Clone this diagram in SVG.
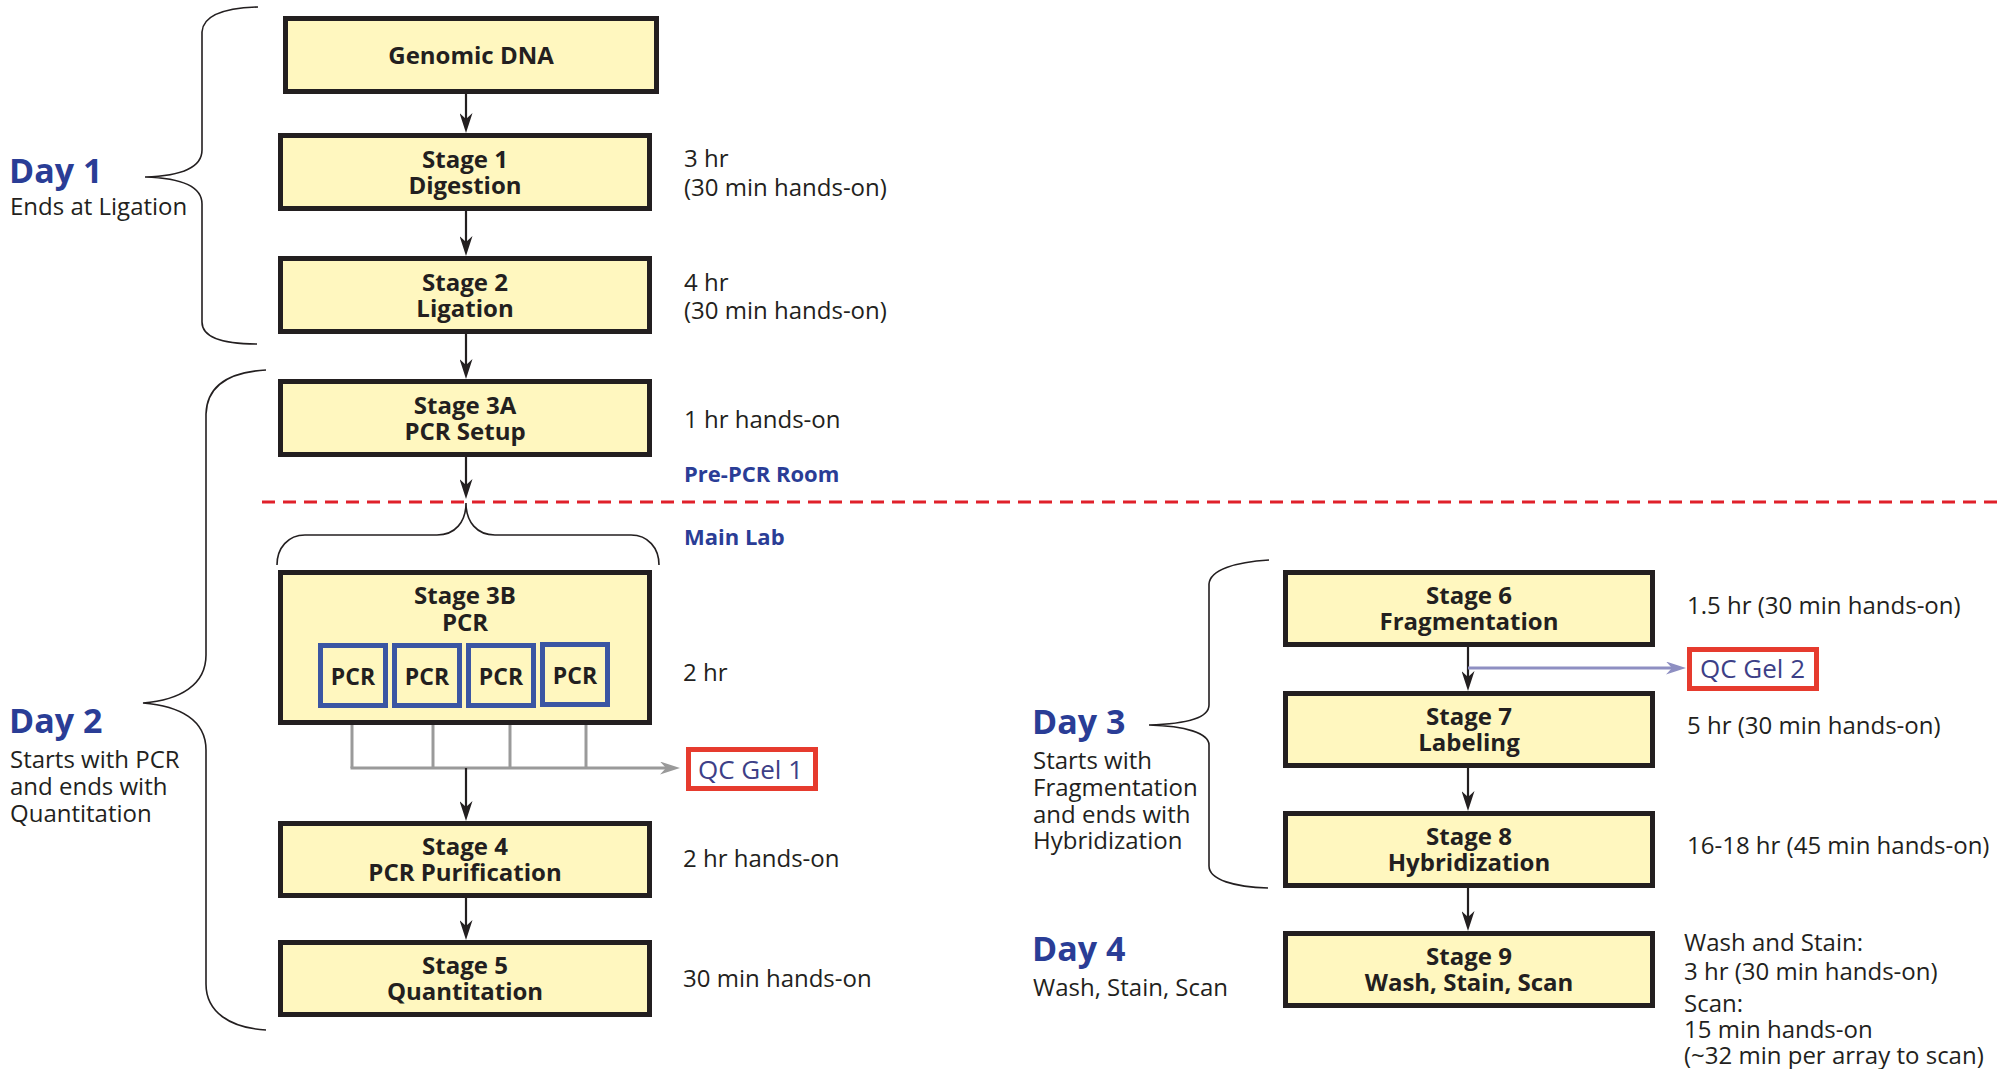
<svg xmlns="http://www.w3.org/2000/svg" width="2000" height="1069" viewBox="0 0 2000 1069">
<style>
.box{fill:#fff7bf;stroke:#231f20;stroke-width:5}
.pcr{fill:#fff7bf;stroke:#3b56a3;stroke-width:5}
.qc{fill:#ffffff;stroke:#e63b2e;stroke-width:5}
.lbl{font-family:"Open Sans","Liberation Sans",sans-serif;font-weight:700;font-size:24px;fill:#231f20;text-anchor:middle}
.side{font-family:"Open Sans","Liberation Sans",sans-serif;font-size:24px;fill:#231f20}
.day{font-family:"Open Sans","Liberation Sans",sans-serif;font-weight:700;font-size:34px;fill:#2a3d96}
.room{font-family:"Open Sans","Liberation Sans",sans-serif;font-weight:700;font-size:22px;fill:#2a3d96}
.qct{font-family:"Open Sans","Liberation Sans",sans-serif;font-size:26px;fill:#3d3f87}
.arr{stroke:#231f20;stroke-width:2.2;fill:none}
.gray{stroke:#9a9a9a;stroke-width:3;fill:none}
.purp{stroke:#8e8fc2;stroke-width:3;fill:none}
.brace{stroke:#231f20;stroke-width:1.6;fill:none}
</style>
<defs>
<marker id="ahB" viewBox="0 0 20 13" refX="12" refY="6.5" markerWidth="20" markerHeight="13" markerUnits="userSpaceOnUse" orient="auto"><path d="M0,0 L20,6.5 L0,13 L6,6.5 z" fill="#231f20"/></marker>
<marker id="ahG" viewBox="0 0 20 13" refX="12" refY="6.5" markerWidth="20" markerHeight="13" markerUnits="userSpaceOnUse" orient="auto"><path d="M0,0 L20,6.5 L0,13 L6,6.5 z" fill="#9a9a9a"/></marker>
<marker id="ahP" viewBox="0 0 20 13" refX="12" refY="6.5" markerWidth="20" markerHeight="13" markerUnits="userSpaceOnUse" orient="auto"><path d="M0,0 L20,6.5 L0,13 L6,6.5 z" fill="#8e8fc2"/></marker>
</defs>
<rect width="2000" height="1069" fill="#ffffff"/>

<g id="braces">
<path class="brace" d="M258,7 C225,8 203,15 202,32 L202,150 C202,168 180,176 145,177 C180,178 202,186 202,204 L202,322 C202,338 225,344 257,344"/>
<path class="brace" d="M266,370 C230,372 207,385 206,414 L206,655 C206,685 180,700 143,703 C180,706 206,720 206,750 L206,984 C206,1012 230,1028 266,1030"/>
<path class="brace" d="M1269,560 C1235,562 1210,570 1209,584 L1209,705 C1209,718 1185,724 1149,725 C1185,726 1209,733 1209,745 L1209,866 C1209,880 1235,887 1268,888"/>
<path class="brace" d="M466,503 C466,522 455,535 437,535 L305,535 C288,535 277,548 277,565 M466,503 C466,522 477,535 495,535 L631,535 C648,535 659,548 659,565"/>
</g>

<g id="divider">
<line x1="262" y1="502" x2="2000" y2="502" stroke="#e0202a" stroke-width="3" stroke-dasharray="13 8"/>
</g>

<g id="connectors">
<line class="arr" x1="466" y1="94" x2="466" y2="125" marker-end="url(#ahB)"/>
<line class="arr" x1="466" y1="211" x2="466" y2="248" marker-end="url(#ahB)"/>
<line class="arr" x1="466" y1="334" x2="466" y2="371" marker-end="url(#ahB)"/>
<line class="arr" x1="466" y1="457" x2="466" y2="491" marker-end="url(#ahB)"/>
<line class="gray" x1="352" y1="725" x2="352" y2="768"/>
<line class="gray" x1="433" y1="725" x2="433" y2="768"/>
<line class="gray" x1="510" y1="725" x2="510" y2="768"/>
<line class="gray" x1="586" y1="725" x2="586" y2="768"/>
<line class="gray" x1="350.5" y1="768" x2="672" y2="768" marker-end="url(#ahG)"/>
<line class="arr" x1="466" y1="768" x2="466" y2="813" marker-end="url(#ahB)"/>
<line class="arr" x1="466" y1="898" x2="466" y2="932" marker-end="url(#ahB)"/>
<line class="arr" x1="1468" y1="647" x2="1468" y2="683" marker-end="url(#ahB)"/>
<line class="purp" x1="1468" y1="668" x2="1678" y2="668" marker-end="url(#ahP)"/>
<line class="arr" x1="1468" y1="768" x2="1468" y2="803" marker-end="url(#ahB)"/>
<line class="arr" x1="1468" y1="888" x2="1468" y2="923" marker-end="url(#ahB)"/>
</g>

<g id="genomic-dna">
<rect class="box" x="285.5" y="18.5" width="371" height="73"/>
<text class="lbl" x="471" y="64">Genomic DNA</text>
</g>
<g id="stage1">
<rect class="box" x="280.5" y="135.5" width="369" height="73"/>
<text class="lbl" x="465" y="168">Stage 1<tspan x="465" y="194">Digestion</tspan></text>
</g>
<g id="stage2">
<rect class="box" x="280.5" y="258.5" width="369" height="73"/>
<text class="lbl" x="465" y="291">Stage 2<tspan x="465" y="317">Ligation</tspan></text>
</g>
<g id="stage3a">
<rect class="box" x="280.5" y="381.5" width="369" height="73"/>
<text class="lbl" x="465" y="414">Stage 3A<tspan x="465" y="440">PCR Setup</tspan></text>
</g>
<g id="stage3b">
<rect class="box" x="280.5" y="572.5" width="369" height="150"/>
<text class="lbl" x="465" y="604">Stage 3B<tspan x="465" y="631">PCR</tspan></text>
<rect class="pcr" x="320.5" y="645.5" width="65" height="60"/>
<rect class="pcr" x="394.5" y="645.5" width="65" height="60"/>
<rect class="pcr" x="468.5" y="645.5" width="65" height="60"/>
<rect class="pcr" x="542.5" y="644.5" width="65" height="60"/>
<text class="lbl" x="353" y="685" style="font-size:23px">PCR</text>
<text class="lbl" x="427" y="685" style="font-size:23px">PCR</text>
<text class="lbl" x="501" y="685" style="font-size:23px">PCR</text>
<text class="lbl" x="575" y="684" style="font-size:23px">PCR</text>
</g>
<g id="qc-gel-1">
<rect class="qc" x="688.5" y="749.5" width="127" height="39"/>
<text class="qct" x="698" y="779">QC Gel 1</text>
</g>
<g id="stage4">
<rect class="box" x="280.5" y="823.5" width="369" height="72"/>
<text class="lbl" x="465" y="855">Stage 4<tspan x="465" y="881">PCR Purification</tspan></text>
</g>
<g id="stage5">
<rect class="box" x="280.5" y="942.5" width="369" height="72"/>
<text class="lbl" x="465" y="974">Stage 5<tspan x="465" y="1000">Quantitation</tspan></text>
</g>
<g id="stage6">
<rect class="box" x="1285.5" y="572.5" width="367" height="72"/>
<text class="lbl" x="1469" y="604">Stage 6<tspan x="1469" y="630">Fragmentation</tspan></text>
</g>
<g id="qc-gel-2">
<rect class="qc" x="1689.5" y="649.5" width="127" height="39"/>
<text class="qct" x="1700" y="678">QC Gel 2</text>
</g>
<g id="stage7">
<rect class="box" x="1285.5" y="693.5" width="367" height="72"/>
<text class="lbl" x="1469" y="725">Stage 7<tspan x="1469" y="751">Labeling</tspan></text>
</g>
<g id="stage8">
<rect class="box" x="1285.5" y="813.5" width="367" height="72"/>
<text class="lbl" x="1469" y="845">Stage 8<tspan x="1469" y="871">Hybridization</tspan></text>
</g>
<g id="stage9">
<rect class="box" x="1285.5" y="933.5" width="367" height="72"/>
<text class="lbl" x="1469" y="965">Stage 9<tspan x="1469" y="991">Wash, Stain, Scan</tspan></text>
</g>

<g id="times">
<text class="side" x="684" y="167">3 hr<tspan x="684" y="196">(30 min hands-on)</tspan></text>
<text class="side" x="684" y="291">4 hr<tspan x="684" y="319">(30 min hands-on)</tspan></text>
<text class="side" x="684" y="428">1 hr hands-on</text>
<text class="room" x="684" y="482">Pre-PCR Room</text>
<text class="room" x="684" y="545">Main Lab</text>
<text class="side" x="683" y="681">2 hr</text>
<text class="side" x="683" y="867">2 hr hands-on</text>
<text class="side" x="683" y="987">30 min hands-on</text>
<text class="side" x="1687" y="614">1.5 hr (30 min hands-on)</text>
<text class="side" x="1687" y="734">5 hr (30 min hands-on)</text>
<text class="side" x="1687" y="854">16-18 hr (45 min hands-on)</text>
<text class="side" x="1684" y="951">Wash and Stain:<tspan x="1684" y="980">3 hr (30 min hands-on)</tspan><tspan x="1684" y="1012">Scan:</tspan><tspan x="1684" y="1038">15 min hands-on</tspan><tspan x="1684" y="1064">(~32 min per array to scan)</tspan></text>
</g>

<g id="days">
<text class="day" x="9" y="183">Day 1</text>
<text class="side" x="10" y="215">Ends at Ligation</text>
<text class="day" x="9" y="733">Day 2</text>
<text class="side" x="10" y="768">Starts with PCR<tspan x="10" y="795">and ends with</tspan><tspan x="10" y="822">Quantitation</tspan></text>
<text class="day" x="1032" y="734">Day 3</text>
<text class="side" x="1033" y="769">Starts with<tspan x="1033" y="796">Fragmentation</tspan><tspan x="1033" y="823">and ends with</tspan><tspan x="1033" y="849">Hybridization</tspan></text>
<text class="day" x="1032" y="961">Day 4</text>
<text class="side" x="1033" y="996">Wash, Stain, Scan</text>
</g>
</svg>
